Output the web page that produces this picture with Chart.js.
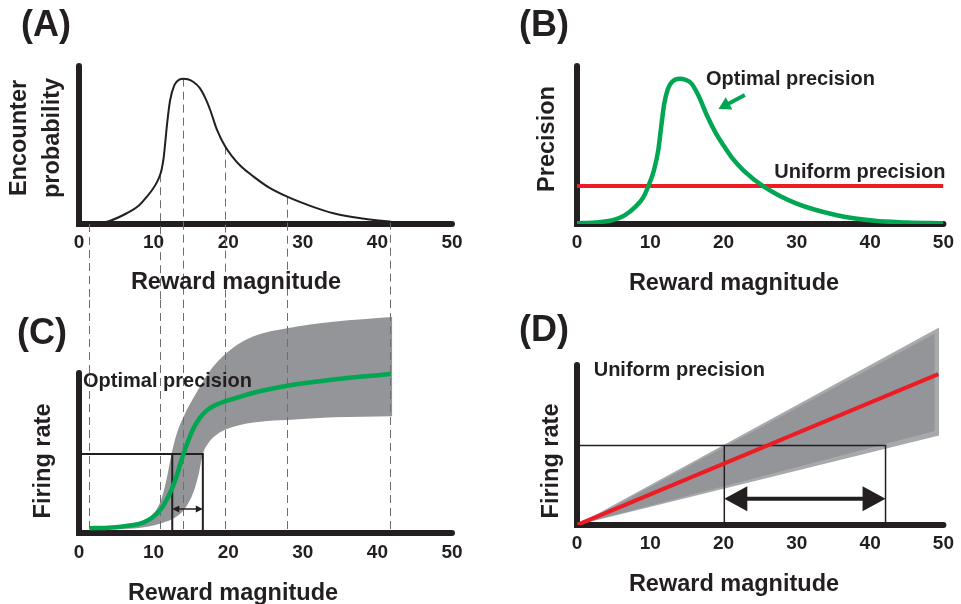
<!DOCTYPE html>
<html>
<head>
<meta charset="utf-8">
<title>Reward magnitude coding</title>
<script src="https://cdn.jsdelivr.net/npm/chart.js@4.4.1/dist/chart.umd.min.js"></script>
<style>
  html, body { margin: 0; background: #fff; }
  body {
    position: relative; width: 961px; height: 604px; overflow: hidden;
    font-family: "Liberation Sans", Arial, Helvetica, sans-serif;
    font-weight: bold; color: #231f20;
  }
  .panel { position: absolute; }
  .tag { position: absolute; font-size: 36px; line-height: 36px; }
  .title {
    position: absolute; font-size: 23.5px; line-height: 33px;
    white-space: nowrap; text-align: center; transform: translate(-50%, -50%);
  }
  .title.v { transform: translate(-50%, -50%) rotate(-90deg); }
</style>
</head>
<body>

<div class="panel" style="left:0;top:0;width:480px;height:300px"><canvas id="chartA"></canvas></div>
<div class="panel" style="left:480px;top:0;width:481px;height:300px"><canvas id="chartB"></canvas></div>
<div class="panel" style="left:0;top:300px;width:480px;height:304px"><canvas id="chartC"></canvas></div>
<div class="panel" style="left:480px;top:300px;width:481px;height:304px"><canvas id="chartD"></canvas></div>

<div class="tag" style="left:21px;top:6px">(A)</div>
<div class="tag" style="left:519px;top:6px">(B)</div>
<div class="tag" style="left:17px;top:314px">(C)</div>
<div class="tag" style="left:519px;top:311px">(D)</div>

<div class="title v" style="left:35px;top:138px">Encounter<br>probability</div>
<div class="title v" style="left:546px;top:139px">Precision</div>
<div class="title v" style="left:42px;top:461px">Firing rate</div>
<div class="title v" style="left:550px;top:461px">Firing rate</div>

<div class="title" style="left:236px;top:281px">Reward magnitude</div>
<div class="title" style="left:734px;top:282px">Reward magnitude</div>
<div class="title" style="left:233px;top:592px">Reward magnitude</div>
<div class="title" style="left:734px;top:583px">Reward magnitude</div>

<script>
Chart.defaults.font.family = '"Liberation Sans", Arial, sans-serif';
Chart.defaults.font.weight = 'bold';
Chart.defaults.color = '#231f20';

const ink = '#231f20';
const green = '#00a651';
const red = '#ed1c24';
const bandGrey = '#939598';
const bandEdge = '#a7a9ac';
const guideGrey = '#6d6e71';

// shared reward axis
const rewardTicks = [0, 10, 20, 30, 40, 50];

// (A) encounter probability of each reward magnitude
const encounterX = [2.0, 4.0, 6.4, 8.0, 9.1, 9.8, 10.4, 10.9, 11.1, 11.35, 11.55, 11.8, 12.2, 12.8, 13.5, 14.0, 14.6, 15.3, 16.2, 17.0, 17.6, 18.5, 19.6, 20.5, 21.6, 23.4, 25.5, 27.9, 31.0, 34.1, 38.0, 41.7, 44.0];
const encounterY = [0.3, 1.8, 6.8, 11.5, 17.3, 21.5, 26, 31.5, 35, 42, 51, 63, 78, 88, 91.5, 92, 91.6, 90, 86, 79, 72, 59.5, 49, 43, 37, 30, 23, 17.3, 11.5, 6.8, 3.5, 1.5, 0.6];

// dashed guides dropped from (A) down into (C)
const guideX = [1.3, 10.9, 14.0, 19.6, 27.9, 41.7];
const guideTop = [0, 31.5, 92, 49, 17.3, 1.5];

// (B) precision profiles
const optimalX = [0, 2.5, 4.9, 6.5, 8.0, 9.0, 9.8, 10.5, 11.1, 11.5, 11.9, 12.4, 13.1, 14.0, 14.8, 15.6, 16.6, 17.8, 19.0, 20.1, 21.3, 22.7, 25.5, 29.9, 35.3, 40.6, 45.0, 50];
const optimalY = [0.4, 1, 2.5, 5.5, 11, 16.5, 24.7, 34, 47, 62, 76, 85.5, 90.5, 92, 91.3, 89, 81, 68, 57, 49, 41, 34, 23.6, 13, 5.7, 2, 1, 0.4];
const uniformX = [0, 50];
const uniformY = [24, 24];

// (C) tuning curve under optimal precision, with its noise band
const rateX = [1.4, 3.5, 5.0, 7.0, 8.6, 9.8, 10.9, 11.9, 12.9, 14.0, 15.3, 16.2, 17.1, 18.3, 19.7, 21.5, 23.3, 27.9, 34.1, 41.8];
const rateY = [3, 3.2, 3.6, 4.8, 6.5, 9.5, 14.4, 22, 33, 49.4, 65, 72, 76.5, 80, 82.5, 85, 87.5, 92, 96, 99.4];
const bandTopX = [1.4, 5.0, 7.5, 9.5, 10.3, 11.1, 11.8, 12.4, 13.1, 14.2, 15.3, 18.0, 20.7, 23.4, 27.9, 34.1, 42.0];
const bandTopY = [3, 3.5, 6, 10.2, 14, 22, 35, 49.4, 62, 74.5, 84, 104, 116, 123, 128, 132, 135];
const bandLowX = [1.4, 4.0, 7.7, 10.9, 13.0, 14.3, 15.3, 16.0, 16.6, 17.3, 18.3, 20.7, 24.3, 27.9, 34.1, 42.0];
const bandLowY = [2.2, 2.5, 3, 6, 10, 16, 25, 36, 49.4, 56, 61, 66.4, 69.6, 70.6, 72.3, 73];
const levelC = 49.4;
const spanC = [12.5, 16.6];
const arrowC = 15;

// (D) linear tuning under uniform precision
const linearX = [0, 49.3];
const linearY = [0, 94.3];
const coneX = [0, 49.4, 49.4];
const coneY = [0, 123.5, 56];
const coneInX = [0.8, 48.8, 48.8];
const coneInY = [1.1, 119.5, 58.8];
const levelD = 49.7;
const spanD = [20.1, 42.1];
const arrowD = 16.4;

const pts = (xs, ys) => xs.map((x, i) => ({ x, y: ys[i] }));

function drawAxes(chart, top) {
  const { ctx, scales: { x, y } } = chart;
  const x0 = x.getPixelForValue(0), y0 = y.getPixelForValue(0);
  ctx.save();
  ctx.strokeStyle = ink;
  ctx.lineWidth = 6;
  ctx.lineCap = 'round';
  ctx.lineJoin = 'miter';
  ctx.beginPath();
  ctx.moveTo(x0, y.getPixelForValue(top));
  ctx.lineTo(x0, y0);
  ctx.lineTo(x.getPixelForValue(x.max), y0);
  ctx.stroke();
  ctx.restore();
}

function drawGuides(chart, g) {
  const { ctx, scales: { x, y } } = chart;
  ctx.save();
  ctx.strokeStyle = guideGrey;
  ctx.lineWidth = 1;
  ctx.setLineDash([8, 5]);
  g.x.forEach((v, i) => {
    const px = Math.round(x.getPixelForValue(v)) + 0.5;
    const y0 = g.down ? y.getPixelForValue(g.top[i]) : 0;
    const y1 = g.down ? chart.height : y.getPixelForValue(0);
    ctx.beginPath();
    ctx.moveTo(px, y0);
    ctx.lineTo(px, y1);
    ctx.stroke();
  });
  ctx.restore();
}

function drawArrow(chart, a) {
  const { ctx, scales: { x, y } } = chart;
  const x1 = x.getPixelForValue(a.from[0]), y1 = y.getPixelForValue(a.from[1]);
  const x2 = x.getPixelForValue(a.to[0]), y2 = y.getPixelForValue(a.to[1]);
  const len = Math.hypot(x2 - x1, y2 - y1);
  ctx.save();
  ctx.translate(x1, y1);
  ctx.rotate(Math.atan2(y2 - y1, x2 - x1));
  ctx.strokeStyle = a.color;
  ctx.fillStyle = a.color;
  ctx.lineWidth = a.width;
  ctx.beginPath();
  ctx.moveTo(a.both ? a.head * 0.8 : 0, 0);
  ctx.lineTo(len - a.head * 0.8, 0);
  ctx.stroke();
  ctx.beginPath();
  ctx.moveTo(len, 0);
  ctx.lineTo(len - a.head, -a.half);
  ctx.lineTo(len - a.head, a.half);
  ctx.closePath();
  ctx.fill();
  if (a.both) {
    ctx.beginPath();
    ctx.moveTo(0, 0);
    ctx.lineTo(a.head, -a.half);
    ctx.lineTo(a.head, a.half);
    ctx.closePath();
    ctx.fill();
  }
  ctx.restore();
}

function drawNote(chart, n) {
  const { ctx, scales: { x, y } } = chart;
  ctx.save();
  ctx.font = 'bold 20px "Liberation Sans", Arial, sans-serif';
  ctx.fillStyle = ink;
  ctx.textAlign = n.align || 'left';
  ctx.textBaseline = 'middle';
  ctx.fillText(n.text, x.getPixelForValue(n.at[0]), y.getPixelForValue(n.at[1]));
  ctx.restore();
}

// axes, guides, arrows and in-plot labels for one panel
function decorPlugin(d) {
  return {
    id: 'decor',
    beforeDatasetsDraw(chart) {
      drawAxes(chart, 100);
      if (d.guides && d.guidesAfter === undefined) drawGuides(chart, d.guides);
    },
    afterDatasetDraw(chart, args) {
      if (d.guides && d.guidesAfter === args.index) drawGuides(chart, d.guides);
    },
    afterDatasetsDraw(chart) {
      (d.arrows || []).forEach(a => drawArrow(chart, a));
      (d.notes || []).forEach(n => drawNote(chart, n));
    }
  };
}

function panel(id, frame, yMax, datasets, decor) {
  return new Chart(document.getElementById(id), {
    type: 'line',
    data: { datasets },
    options: {
      responsive: true,
      maintainAspectRatio: false,
      animation: false,
      events: [],
      layout: { padding: { left: frame.left, right: frame.right, top: frame.top, bottom: 0 } },
      elements: { point: { radius: 0 } },
      plugins: { legend: { display: false }, tooltip: { enabled: false } },
      scales: {
        x: {
          type: 'linear', min: 0, max: 50,
          afterBuildTicks: s => { s.ticks = rewardTicks.map(v => ({ value: v })); },
          afterFit: s => { s.height = frame.axis; },
          grid: { display: false, drawTicks: false },
          border: { display: false },
          ticks: { padding: frame.tickPad, color: ink, maxRotation: 0, autoSkip: false,
                   font: { size: 19, weight: 'bold' } }
        },
        y: { type: 'linear', display: false, min: 0, max: yMax }
      }
    },
    plugins: [decorPlugin(decor)]
  });
}

const line = (data, color, width, extra) => Object.assign({
  data, borderColor: color, borderWidth: width, fill: false,
  cubicInterpolationMode: 'monotone', borderCapStyle: 'butt'
}, extra || {});

const straight = { cubicInterpolationMode: 'default', tension: 0 };

// (A)
panel('chartA', { left: 79, right: 28, top: 66, axis: 76, tickPad: 7 }, 100, [
  line(pts(encounterX, encounterY), ink, 2)
], {
  guides: { x: guideX, top: guideTop, down: true }
});

// (B)
panel('chartB', { left: 97, right: 11, top: 66, axis: 76, tickPad: 7 }, 100, [
  line(pts(optimalX, optimalY), green, 4.5),
  line(pts(uniformX, uniformY), red, 4)
], {
  arrows: [{ from: [22.9, 81.6], to: [19.3, 72.8], color: green, width: 4, head: 12, half: 7 }],
  notes: [
    { text: 'Optimal precision', at: [17.6, 91.5] },
    { text: 'Uniform precision', at: [50.27, 32.3], align: 'right' }
  ]
});

// (C)
panel('chartC', { left: 79, right: 28, top: 9, axis: 71, tickPad: 8 }, 140, [
  line(pts(rateX, rateY), green, 4.5),
  line([{ x: 0, y: levelC }, { x: spanC[1], y: levelC }, { x: spanC[1], y: 0 }], ink, 2, straight),
  line([{ x: spanC[0], y: levelC }, { x: spanC[0], y: 0 }], ink, 2, straight),
  line(pts(bandTopX, bandTopY), 'transparent', 0, { fill: '+1', backgroundColor: bandGrey }),
  line(pts(bandLowX, bandLowY), 'transparent', 0)
], {
  guides: { x: guideX, down: false },
  guidesAfter: 3,
  arrows: [{ from: [spanC[0], arrowC], to: [spanC[1], arrowC], color: ink, width: 1.5, head: 7, half: 3.5, both: true }],
  notes: [{ text: 'Optimal precision', at: [0.54, 94.7] }]
});

// (D)
panel('chartD', { left: 97, right: 11, top: 17, axis: 79, tickPad: 7 }, 130, [
  line(pts(linearX, linearY), red, 4, straight),
  line([{ x: 0, y: levelD }, { x: spanD[1], y: levelD }, { x: spanD[1], y: 0 }], ink, 1.5, straight),
  line([{ x: spanD[0], y: levelD }, { x: spanD[0], y: 0 }], ink, 1.5, straight),
  line(pts(coneInX, coneInY), 'transparent', 0, Object.assign({ fill: 'shape', backgroundColor: bandGrey }, straight)),
  line(pts(coneX, coneY), 'transparent', 0, Object.assign({ fill: 'shape', backgroundColor: bandEdge }, straight))
], {
  arrows: [{ from: [spanD[0], arrowD], to: [spanD[1], arrowD], color: ink, width: 4, head: 23, half: 12.5, both: true }],
  notes: [{ text: 'Uniform precision', at: [2.28, 96.6] }]
});
</script>
</body>
</html>
